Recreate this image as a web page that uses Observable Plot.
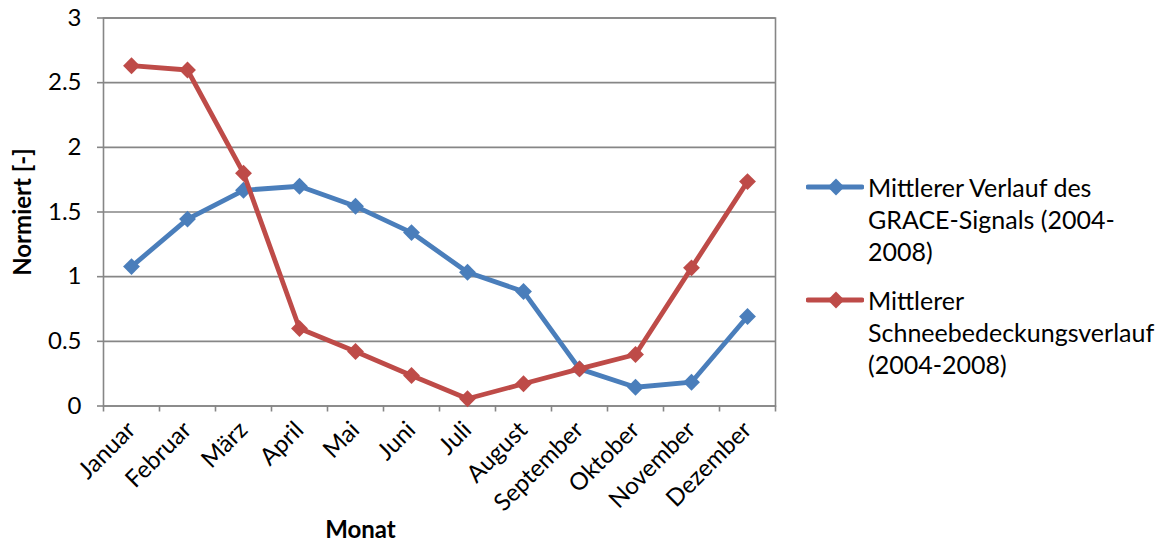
<!DOCTYPE html>
<html>
<head>
<meta charset="utf-8">
<script src="https://cdn.jsdelivr.net/npm/d3@7"></script>
<script src="https://cdn.jsdelivr.net/npm/@observablehq/plot@0.6"></script>
<style>
  body { margin: 0; background: #fff; }
  #wrap { position: relative; width: 1158px; height: 544px; font-family: Lato, "Open Sans", sans-serif; }
  #wrap svg.plot g[aria-label$="axis label"] text { font-weight: bold; }
  .legend-item { position: absolute; left: 806px; display: flex; align-items: flex-start; }
  .legend-item svg { flex: none; }
  .legend-text { font-size: 25px; line-height: 32px; color: #000; white-space: nowrap; margin-left: 4px; }
</style>
</head>
<body>
<div id="wrap"></div>
<script>
// Monthly means 2004-2008, normalised
const months = ["Januar", "Februar", "März", "April", "Mai", "Juni", "Juli",
  "August", "September", "Oktober", "November", "Dezember"];
const graceSignal = [1.078, 1.445, 1.668, 1.699, 1.544, 1.341, 1.034, 0.885, 0.287, 0.145, 0.184, 0.692];
const snowCover = [2.631, 2.598, 1.800, 0.599, 0.421, 0.236, 0.056, 0.172, 0.287, 0.398, 1.068, 1.735];
const seriesNames = [
  ["Mittlerer Verlauf des", "GRACE-Signals (2004-", "2008)"],
  ["Mittlerer", "Schneebedeckungsverlauf", "(2004-2008)"]
];
const seriesColors = ["#4A7EBB", "#BE4B48"];
const yTicks = [0, 0.5, 1, 1.5, 2, 2.5, 3];
const xTitle = "Monat";
const yTitle = "Normiert [-]";

const grace = months.map((m, i) => ({pos: i + 0.5, value: graceSignal[i]}));
const snow = months.map((m, i) => ({pos: i + 0.5, value: snowCover[i]}));
const gray = "#868686";

const chart = Plot.plot({
  width: 1158,
  height: 544,
  marginLeft: 103,
  marginRight: 383,
  marginTop: 17.5,
  marginBottom: 138.5,
  style: {fontFamily: "Lato, 'Open Sans', sans-serif", fontSize: "24px", color: "#000", background: "#fff"},
  x: {domain: [0, months.length], axis: null},
  y: {domain: [0, 3], axis: null},
  marks: [
    Plot.gridY(yTicks, {stroke: gray, strokeOpacity: 1, strokeWidth: 1.6}),
    Plot.frame({stroke: gray, strokeWidth: 1.6}),
    Plot.axisY({
      ticks: yTicks, tickSize: 6, tickPadding: 16, tickFormat: d => String(d),
      stroke: gray, strokeWidth: 1.6, fontSize: 24,
      label: yTitle, labelAnchor: "center", labelArrow: "none", labelOffset: 90
    }),
    Plot.axisX({ticks: d3.range(months.length + 1), tickSize: 6, tickFormat: () => "",
      stroke: gray, strokeWidth: 1.6, label: null}),
    Plot.axisX({
      ticks: months.map((m, i) => i + 0.5), tickSize: 0, tickPadding: 20,
      tickFormat: d => months[Math.round(d - 0.5)], tickRotate: -45, fontSize: 24,
      label: null
    }),
    // x-axis title, centred under the chart area
    Plot.text([xTitle], {frameAnchor: "bottom", text: d => d, dx: -79, dy: 124,
      lineAnchor: "middle", fontWeight: "bold", fontSize: 24}),
    Plot.line(grace, {x: "pos", y: "value", stroke: seriesColors[0], strokeWidth: 4.8}),
    Plot.dot(grace, {x: "pos", y: "value", symbol: "diamond2", r: 7.6, fill: seriesColors[0]}),
    Plot.line(snow, {x: "pos", y: "value", stroke: seriesColors[1], strokeWidth: 4.8}),
    Plot.dot(snow, {x: "pos", y: "value", symbol: "diamond2", r: 7.6, fill: seriesColors[1]})
  ]
});
chart.classList.add("plot");
const wrap = document.getElementById("wrap");
wrap.appendChild(chart);

// Legend to the right of the plot area
const legendTops = [171, 284];
seriesNames.forEach((lines, i) => {
  const item = document.createElement("div");
  item.className = "legend-item";
  item.style.top = legendTops[i] + "px";
  const sw = d3.create("svg").attr("width", 58).attr("height", 32);
  sw.append("line").attr("x1", 2).attr("x2", 56).attr("y1", 16).attr("y2", 16)
    .attr("stroke", seriesColors[i]).attr("stroke-width", 4.8).attr("stroke-linecap", "round");
  sw.append("path").attr("transform", "translate(30,16)")
    .attr("d", d3.symbol(d3.symbolDiamond2, Math.PI * 7.6 * 7.6)())
    .attr("fill", seriesColors[i]);
  item.appendChild(sw.node());
  const txt = document.createElement("div");
  txt.className = "legend-text";
  txt.innerHTML = lines.join("<br>");
  item.appendChild(txt);
  wrap.appendChild(item);
});
</script>
</body>
</html>
